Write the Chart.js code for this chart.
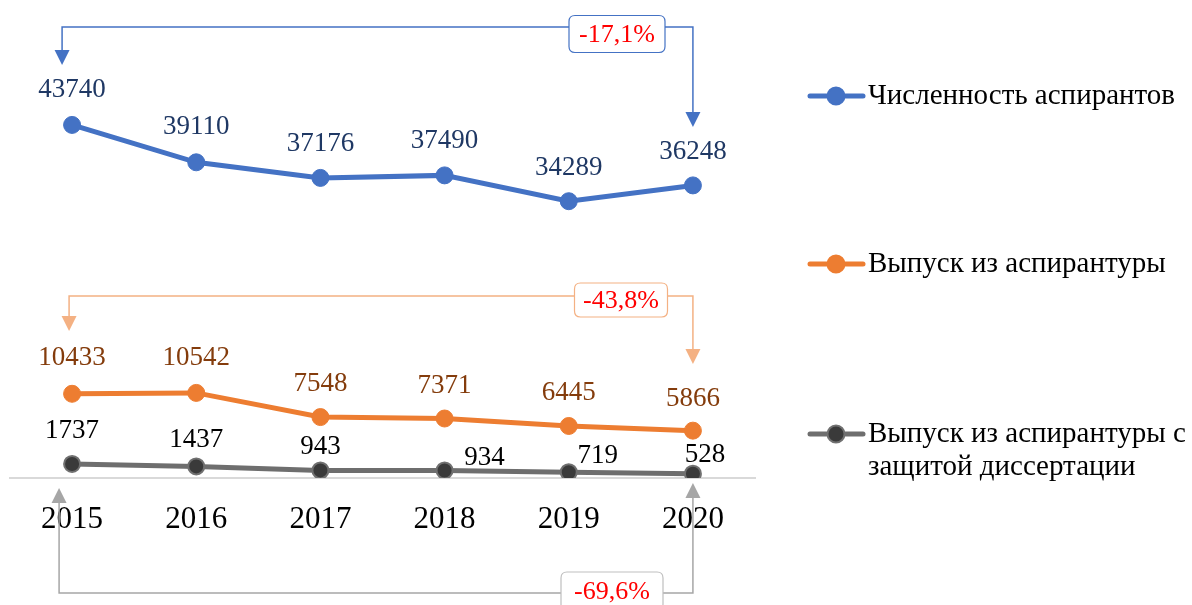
<!DOCTYPE html>
<html>
<head>
<meta charset="utf-8">
<script src="https://cdn.jsdelivr.net/npm/chart.js@4.4.0/dist/chart.umd.min.js"></script>
<style>
  html, body { margin: 0; padding: 0; background: #fff; }
  #wrap { width: 1192px; height: 605px; position: relative; }
</style>
</head>
<body>
<div id="wrap"><canvas id="chart" width="1192" height="605"></canvas></div>
<script>
// Data
const years = ['2015', '2016', '2017', '2018', '2019', '2020'];
const students = [43740, 39110, 37176, 37490, 34289, 36248];
const graduates = [10433, 10542, 7548, 7371, 6445, 5866];
const defended = [1737, 1437, 943, 934, 719, 528];
const seriesNames = [
    'Численность аспирантов',
    'Выпуск из аспирантуры',
    'Выпуск из аспирантуры с защитой диссертации'
];

const SERIF = '"Liberation Serif", "Times New Roman", serif';

function pctChange(arr) {
    const v = (arr[arr.length - 1] - arr[0]) / arr[0] * 100;
    return v.toFixed(1).replace('.', ',') + '%';
}

// value labels with per-point nudges for the crowded grey series
const labelStyle = [
    { color: '#1f3864', shift: [[0, -35], [0, -35], [0, -34], [0, -34], [0, -33], [0, -33]] },
    { color: '#843c0c', shift: [[0, -36], [0, -35], [0, -33], [0, -33], [0, -33], [0, -32]] },
    { color: '#000000', shift: [[0, -33], [0, -26], [0, -23], [40, -13], [29, -16], [12, -19]] }
];

const valueLabels = {
    id: 'valueLabels',
    afterDatasetsDraw(chart) {
        const ctx = chart.ctx;
        ctx.save();
        ctx.font = '27px ' + SERIF;
        ctx.textAlign = 'center';
        ctx.textBaseline = 'middle';
        chart.data.datasets.forEach((ds, i) => {
            const meta = chart.getDatasetMeta(i);
            meta.data.forEach((pt, j) => {
                const s = labelStyle[i].shift[j];
                ctx.fillStyle = labelStyle[i].color;
                ctx.fillText(ds.data[j], pt.x + s[0], pt.y + s[1]);
            });
        });
        ctx.restore();
    }
};

// bracket arrows showing change between first and last year
const brackets = [
    { ds: 0, color: '#4472c4', box: '#4472c4', lineY: 27, dxLeft: -10, tipL: 65, tipR: 127, bx: 617, by: 34, bw: 96, bh: 37 },
    { ds: 1, color: '#f4b183', box: '#f4b183', lineY: 296, dxLeft: -3, tipL: 331, tipR: 364, bx: 621, by: 300, bw: 93, bh: 34 },
    { ds: 2, color: '#a6a6a6', box: '#bfbfbf', lineY: 593, dxLeft: -13, tipL: 488, tipR: 483, bx: 612, by: 591, bw: 102, bh: 38 }
];

function arrowHead(ctx, x, tipY, dir) {
    const h = 15, w = 7.5;
    ctx.beginPath();
    ctx.moveTo(x, tipY);
    ctx.lineTo(x - w, tipY - dir * h);
    ctx.lineTo(x + w, tipY - dir * h);
    ctx.closePath();
    ctx.fill();
}

function roundRect(ctx, x, y, w, h, r) {
    ctx.beginPath();
    ctx.moveTo(x + r, y);
    ctx.lineTo(x + w - r, y);
    ctx.quadraticCurveTo(x + w, y, x + w, y + r);
    ctx.lineTo(x + w, y + h - r);
    ctx.quadraticCurveTo(x + w, y + h, x + w - r, y + h);
    ctx.lineTo(x + r, y + h);
    ctx.quadraticCurveTo(x, y + h, x, y + h - r);
    ctx.lineTo(x, y + r);
    ctx.quadraticCurveTo(x, y, x + r, y);
    ctx.closePath();
}

const changeArrows = {
    id: 'changeArrows',
    afterDraw(chart) {
        const ctx = chart.ctx;
        const xs = chart.scales.x;
        ctx.save();
        brackets.forEach(b => {
            const data = chart.data.datasets[b.ds].data;
            const xl = xs.getPixelForValue(0) + b.dxLeft;
            const xr = xs.getPixelForValue(data.length - 1);
            ctx.strokeStyle = b.color;
            ctx.fillStyle = b.color;
            ctx.lineWidth = 1.5;
            const dirL = b.tipL > b.lineY ? 1 : -1;
            const dirR = b.tipR > b.lineY ? 1 : -1;
            ctx.beginPath();
            ctx.moveTo(xl, b.tipL - dirL * 10);
            ctx.lineTo(xl, b.lineY);
            ctx.lineTo(xr, b.lineY);
            ctx.lineTo(xr, b.tipR - dirR * 10);
            ctx.stroke();
            arrowHead(ctx, xl, b.tipL, dirL);
            arrowHead(ctx, xr, b.tipR, dirR);

            roundRect(ctx, b.bx - b.bw / 2, b.by - b.bh / 2, b.bw, b.bh, 6);
            ctx.fillStyle = '#ffffff';
            ctx.fill();
            ctx.lineWidth = 1.2;
            ctx.strokeStyle = b.box;
            ctx.stroke();

            ctx.fillStyle = '#ff0000';
            ctx.font = '26px ' + SERIF;
            ctx.textAlign = 'center';
            ctx.textBaseline = 'middle';
            ctx.fillText(pctChange(data), b.bx, b.by + 1);
        });
        ctx.restore();
    }
};

// legend on the right side
const legendRows = [96, 264, 434];
const sideLegend = {
    id: 'sideLegend',
    afterDraw(chart) {
        const ctx = chart.ctx;
        ctx.save();
        ctx.font = '29px ' + SERIF;
        ctx.textBaseline = 'middle';
        ctx.textAlign = 'left';
        chart.data.datasets.forEach((ds, i) => {
            const y = legendRows[i];
            ctx.strokeStyle = ds.borderColor;
            ctx.lineWidth = 5;
            ctx.lineCap = 'round';
            ctx.beginPath();
            ctx.moveTo(810, y);
            ctx.lineTo(863, y);
            ctx.stroke();
            ctx.beginPath();
            ctx.arc(836, y, 8.5, 0, Math.PI * 2);
            ctx.fillStyle = ds.pointBackgroundColor;
            ctx.fill();
            ctx.lineWidth = 2;
            ctx.strokeStyle = ds.pointBorderColor;
            ctx.stroke();

            // wrap the name
            const words = ds.label.split(' ');
            const lines = [];
            let cur = '';
            words.forEach(w => {
                const test = cur ? cur + ' ' + w : w;
                if (ctx.measureText(test).width > 324 && cur) {
                    lines.push(cur);
                    cur = w;
                } else {
                    cur = test;
                }
            });
            lines.push(cur);
            ctx.fillStyle = '#000000';
            lines.forEach((l, k) => ctx.fillText(l, 868, y + k * 33));
        });
        ctx.restore();
    }
};

new Chart(document.getElementById('chart'), {
    type: 'line',
    data: {
        labels: years,
        datasets: [
            {
                label: seriesNames[0],
                data: students,
                borderColor: '#4472c4',
                backgroundColor: '#4472c4',
                pointBackgroundColor: '#4472c4',
                pointBorderColor: '#4472c4',
                borderWidth: 5,
                pointRadius: 8.5,
                pointBorderWidth: 1
            },
            {
                label: seriesNames[1],
                data: graduates,
                borderColor: '#ed7d31',
                backgroundColor: '#ed7d31',
                pointBackgroundColor: '#ed7d31',
                pointBorderColor: '#ed7d31',
                borderWidth: 5,
                pointRadius: 8.5,
                pointBorderWidth: 1
            },
            {
                label: seriesNames[2],
                data: defended,
                borderColor: '#6e6e6e',
                backgroundColor: '#3a3a3a',
                pointBackgroundColor: '#3a3a3a',
                pointBorderColor: '#707070',
                borderWidth: 5,
                pointRadius: 8,
                pointBorderWidth: 2
            }
        ]
    },
    options: {
        responsive: false,
        animation: false,
        layout: { padding: { left: 10, right: 437, top: 30, bottom: 0 } },
        plugins: {
            legend: { display: false },
            tooltip: { enabled: false }
        },
        scales: {
            x: {
                offset: true,
                grid: { display: false, drawTicks: false },
                border: { display: true, color: '#d9d9d9', width: 2 },
                ticks: {
                    color: '#000000',
                    padding: 23,
                    font: { family: SERIF, size: 31 }
                },
                afterFit(scale) { scale.height = 127; }
            },
            y: {
                display: false,
                min: 0,
                max: 55500
            }
        }
    },
    plugins: [changeArrows, valueLabels, sideLegend]
});
</script>
</body>
</html>
